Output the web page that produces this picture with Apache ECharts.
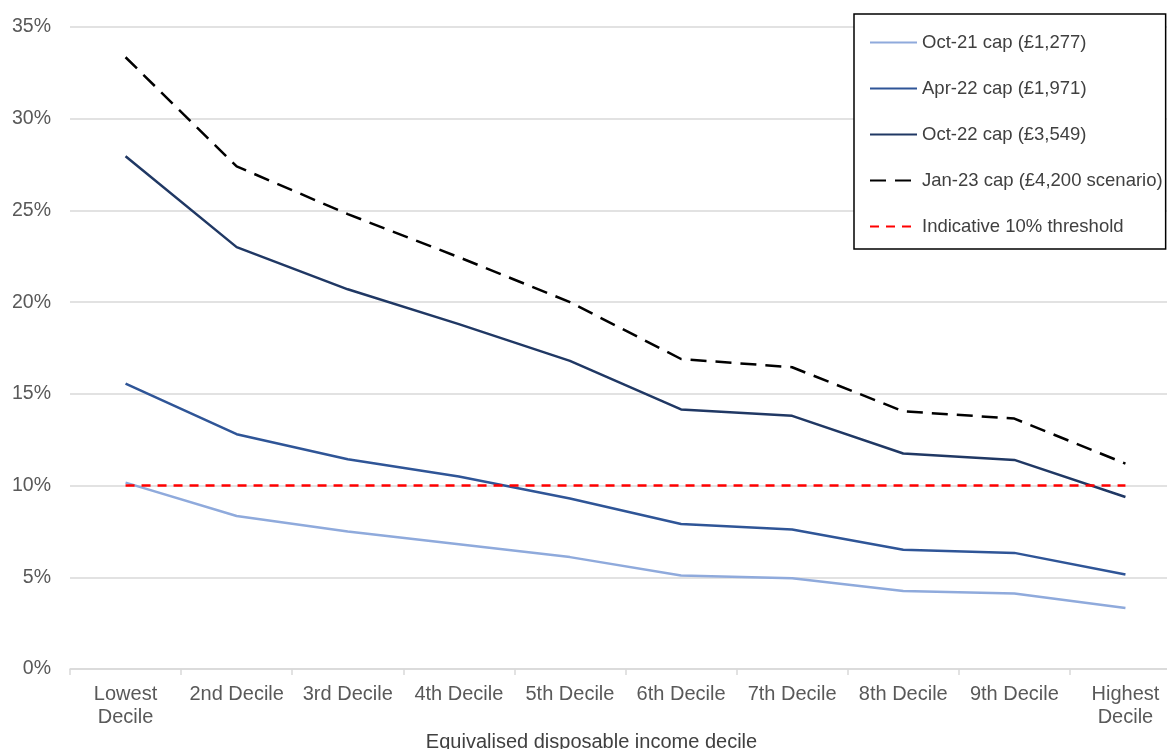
<!DOCTYPE html>
<html>
<head>
<meta charset="utf-8">
<script src="https://cdn.jsdelivr.net/npm/echarts@6/dist/echarts.min.js"></script>
<style>
html,body{margin:0;padding:0;background:#fff;}
#chart{width:1167px;height:749px;}
</style>
</head>
<body>
<div id="chart"></div>
<script>
const categories = ["Lowest\nDecile","2nd Decile","3rd Decile","4th Decile","5th Decile","6th Decile","7th Decile","8th Decile","9th Decile","Highest\nDecile"];
const seriesNames = ["Oct-21 cap (£1,277)","Apr-22 cap (£1,971)","Oct-22 cap (£3,549)","Jan-23 cap (£4,200 scenario)","Indicative 10% threshold"];
const oct21 = [10.16, 8.34, 7.5, 6.8, 6.1, 5.1, 4.95, 4.25, 4.11, 3.33];
const apr22 = [15.56, 12.8, 11.43, 10.5, 9.3, 7.9, 7.6, 6.5, 6.33, 5.15];
const oct22 = [27.95, 23.0, 20.7, 18.8, 16.8, 14.15, 13.8, 11.75, 11.4, 9.38];
const jan23 = [33.35, 27.4, 24.8, 22.45, 20.0, 16.9, 16.45, 14.05, 13.65, 11.2];
const threshold = [10, 10, 10, 10, 10, 10, 10, 10, 10, 10];
const xAxisTitle = "Equivalised disposable income decile";

const font = "'Liberation Sans', Arial, sans-serif";
const chart = echarts.init(document.getElementById('chart'), null, {renderer:'canvas'});
chart.setOption({
  animation: false,
  textStyle: {fontFamily: font},
  grid: {left: 70, top: 27, width: 1111, height: 642, containLabel: false, outerBoundsMode: 'none'},
  xAxis: {
    type: 'category',
    data: categories,
    boundaryGap: true,
    axisLine: {lineStyle: {color: '#D9D9D9', width: 1.5}},
    axisTick: {show: true, length: 6, lineStyle: {color: '#D9D9D9', width: 1.5}},
    axisLabel: {color: '#595959', fontSize: 20, fontFamily: font, margin: 14, lineHeight: 23, interval: 0}
  },
  yAxis: {
    type: 'value',
    min: 0, max: 35, interval: 5,
    axisLine: {show: false},
    axisTick: {show: false},
    splitLine: {lineStyle: {color: '#D9D9D9', width: 1.5}},
    axisLabel: {color: '#595959', fontSize: 19.5, fontFamily: font, margin: 19, formatter: '{value}%'}
  },
  legend: {
    orient: 'vertical',
    left: 854, top: 14,
    data: seriesNames,
    itemWidth: 47, itemHeight: 14, itemGap: 27,
    padding: [19, 3, 13, 15],
    borderColor: '#000', borderWidth: 1.5,
    backgroundColor: '#fff',
    itemStyle: {opacity: 0},
    textStyle: {color: '#404040', fontSize: 18.5, fontFamily: font}
  },
  graphic: [{
    type: 'text', x: 591.5, y: 732,
    style: {text: xAxisTitle, fill: '#404040', font: "20px 'Liberation Sans', Arial, sans-serif", textAlign: 'center'}
  }],
  series: [
    {name: seriesNames[0], type: 'line', data: oct21, symbol: 'none', lineStyle: {color: '#8FAADC', width: 2.5}, itemStyle: {color: '#8FAADC'}},
    {name: seriesNames[1], type: 'line', data: apr22, symbol: 'none', lineStyle: {color: '#2F5597', width: 2.5}, itemStyle: {color: '#2F5597'}},
    {name: seriesNames[2], type: 'line', data: oct22, symbol: 'none', lineStyle: {color: '#203864', width: 2.5}, itemStyle: {color: '#203864'}},
    {name: seriesNames[3], type: 'line', data: jan23, symbol: 'none', lineStyle: {color: '#000000', width: 2.5, type: [16, 9]}, itemStyle: {color: '#000000'}},
    {name: seriesNames[4], type: 'line', data: threshold, symbol: 'none', lineStyle: {color: '#FF0000', width: 2.5, type: [9, 7]}, itemStyle: {color: '#FF0000'}}
  ]
});
</script>
</body>
</html>
